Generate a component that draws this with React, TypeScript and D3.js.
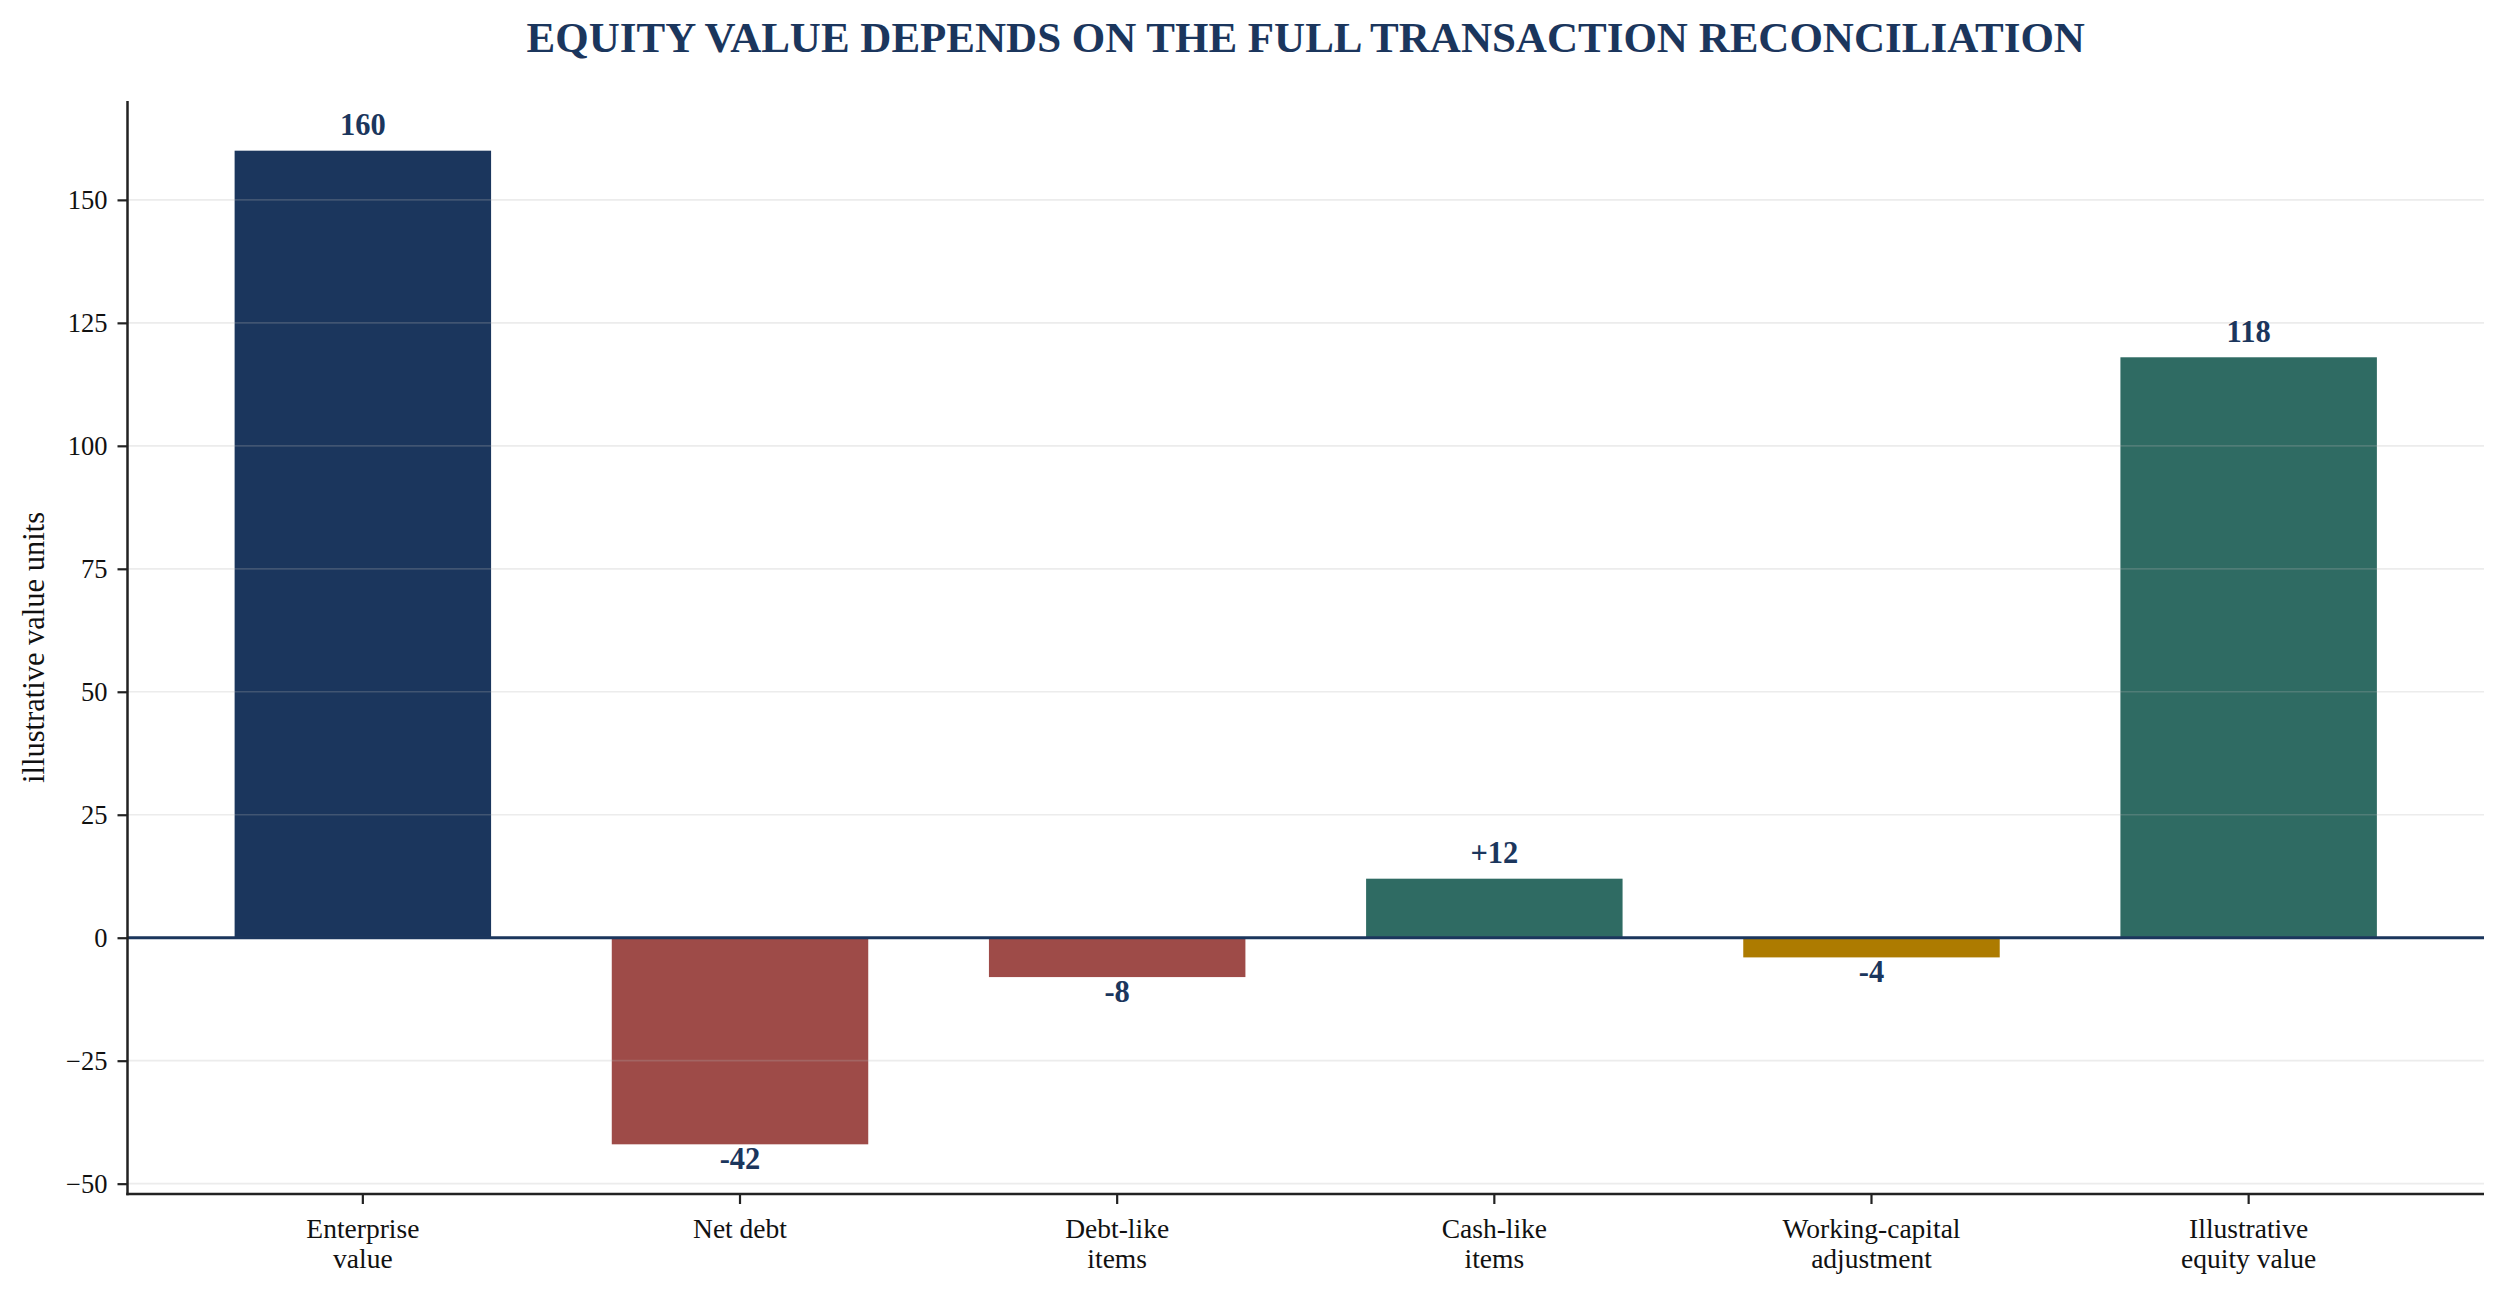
import React, { useEffect, useRef } from 'react';
import * as d3 from 'd3';

const categories = ['Enterprise\nvalue', 'Net debt', 'Debt-like\nitems', 'Cash-like\nitems', 'Working-capital\nadjustment', 'Illustrative\nequity value'];
const values = [160, -42, -8, 12, -4, 118];
const kinds = ['total', 'delta', 'delta', 'delta', 'delta', 'total'];
const barColors = ['#1b365d', '#9e4b48', '#9e4b48', '#2f6b63', '#ad7b00', '#2f6b63'];
const yTicks = [-50, -25, 0, 25, 50, 75, 100, 125, 150];

const W = 2505;
const H = 1298;
const navy = '#1b365d';
const serif = '"Liberation Serif", "Times New Roman", Times, serif';

export default function App() {
  const ref = useRef<SVGSVGElement>(null);

  useEffect(() => {
    document.body.style.margin = '0';
    if (!ref.current) return;
    const svg = d3.select(ref.current);
    svg.selectAll('*').remove();

    const left = 127.5, right = 2484, top = 101, bottom = 1194;
    const barW = 0.68;

    const x = d3.scaleLinear().domain([-0.624, categories.length - 1 + 0.624]).range([left, right]);
    const y = d3.scaleLinear().domain([-52.1, 170.1]).range([bottom, top]);

    svg.append('rect').attr('width', W).attr('height', H).attr('fill', '#ffffff');

    // bars
    svg.append('g')
      .selectAll('rect')
      .data(values)
      .enter()
      .append('rect')
      .attr('x', (_, i) => x(i - barW / 2))
      .attr('width', x(barW) - x(0))
      .attr('y', d => y(Math.max(0, d)))
      .attr('height', d => Math.abs(y(d) - y(0)))
      .attr('fill', (_, i) => barColors[i]);

    // grid (drawn over the bars, faint)
    svg.append('g')
      .selectAll('line')
      .data(yTicks)
      .enter()
      .append('line')
      .attr('x1', left)
      .attr('x2', right)
      .attr('y1', d => y(d))
      .attr('y2', d => y(d))
      .attr('stroke', '#b5b5b5')
      .attr('stroke-opacity', 0.25)
      .attr('stroke-width', 1.7);

    // zero line
    svg.append('line')
      .attr('x1', left)
      .attr('x2', right)
      .attr('y1', y(0))
      .attr('y2', y(0))
      .attr('stroke', navy)
      .attr('stroke-width', 3);

    // y axis
    const yAxis = svg.append('g')
      .attr('transform', `translate(${left},0)`)
      .call(d3.axisLeft(y).tickValues(yTicks).tickSize(10).tickPadding(10)
        .tickFormat(d => d3.format('d')(d as number).replace('-', '\u2212')));
    yAxis.select('.domain').remove();
    yAxis.selectAll('.tick line').attr('stroke', '#222').attr('stroke-width', 2.2);
    yAxis.selectAll('.tick text')
      .attr('fill', '#111')
      .style('font-family', serif)
      .style('font-size', '26.5px');

    // x axis ticks + labels
    const xg = svg.append('g');
    categories.forEach((c, i) => {
      xg.append('line')
        .attr('x1', x(i)).attr('x2', x(i))
        .attr('y1', bottom).attr('y2', bottom + 10)
        .attr('stroke', '#222').attr('stroke-width', 2.2);
      const t = xg.append('text')
        .attr('x', x(i))
        .attr('y', bottom + 44)
        .attr('text-anchor', 'middle')
        .attr('fill', '#111')
        .style('font-family', serif)
        .style('font-size', '27.5px');
      c.split('\n').forEach((line, j) => {
        t.append('tspan').attr('x', x(i)).attr('dy', j === 0 ? 0 : 30).text(line);
      });
    });

    // spines
    svg.append('line')
      .attr('x1', left).attr('x2', left).attr('y1', top).attr('y2', bottom + 1.2)
      .attr('stroke', '#222').attr('stroke-width', 2.5);
    svg.append('line')
      .attr('x1', left - 1.2).attr('x2', right).attr('y1', bottom).attr('y2', bottom)
      .attr('stroke', '#222').attr('stroke-width', 2.5);

    // value labels
    svg.append('g')
      .selectAll('text')
      .data(values)
      .enter()
      .append('text')
      .attr('x', (_, i) => x(i))
      .attr('y', d => (d >= 0 ? y(d) - 15.5 : y(d) + 24.5))
      .attr('text-anchor', 'middle')
      .attr('fill', navy)
      .style('font-family', serif)
      .style('font-size', '30.5px')
      .style('font-weight', 'bold')
      .text((d, i) => (kinds[i] === 'delta' && d > 0 ? `+${d}` : `${d}`));

    // y label
    svg.append('text')
      .attr('transform', `translate(44,${(top + bottom) / 2}) rotate(-90)`)
      .attr('text-anchor', 'middle')
      .attr('fill', '#111')
      .style('font-family', serif)
      .style('font-size', '30.5px')
      .text('illustrative value units');

    // title
    svg.append('text')
      .attr('x', (left + right) / 2)
      .attr('y', 52)
      .attr('text-anchor', 'middle')
      .attr('fill', navy)
      .style('font-family', serif)
      .style('font-size', '43px')
      .style('font-weight', 'bold')
      .text('EQUITY VALUE DEPENDS ON THE FULL TRANSACTION RECONCILIATION');
  }, []);

  return <svg ref={ref} width={W} height={H} style={{ display: 'block' }} />;
}
